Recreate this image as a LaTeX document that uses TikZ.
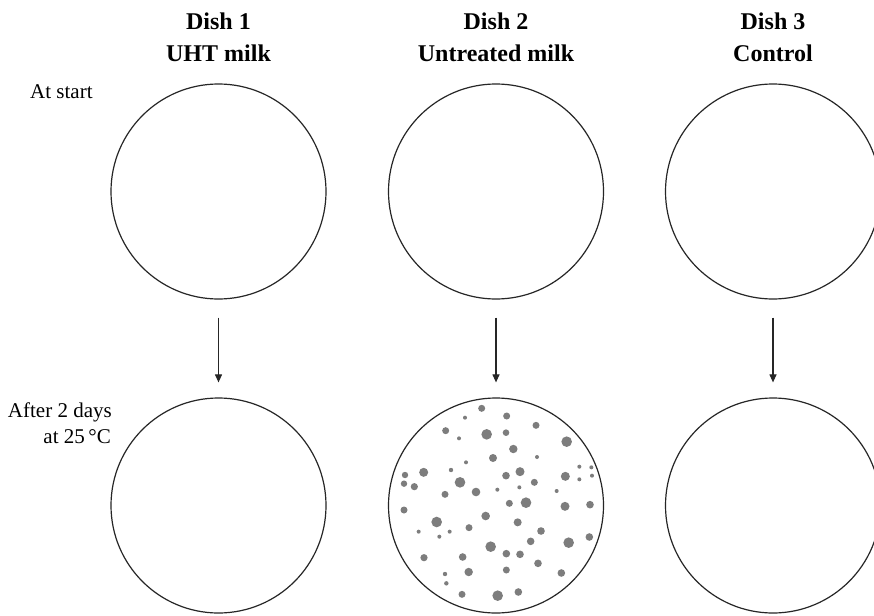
\documentclass[tikz,border=0pt]{standalone}
\usepackage{fontspec}
\setmainfont{Liberation Serif}
\usetikzlibrary{arrows.meta}
\definecolor{dotgray}{RGB}{125,125,125}
\begin{document}
\begin{tikzpicture}[x=1pt,y=-1pt,
  dish/.style={circle,draw=black!85,line width=1.2pt,minimum size=215pt,inner sep=0pt},
  title/.style={font=\fontsize{24}{28}\selectfont\bfseries,anchor=base,inner sep=0pt},
  side/.style={font=\fontsize{21}{26}\selectfont,inner sep=0pt},
  arr/.style={line width=1.1pt,draw=black!85,-{Triangle[length=8pt,width=7pt]}}]
\useasboundingbox (0,0) rectangle (874,615);
\fill[white] (0,0) rectangle (874,615);
% titles
\node[title] (h1a) at (218.5,30) {Dish 1};
\node[title] (h1b) at (218.5,62) {UHT milk};
\node[title] (h2a) at (496,30) {Dish 2};
\node[title] (h2b) at (496,62) {Untreated milk};
\node[title] (h3a) at (773,30) {Dish 3};
\node[title] (h3b) at (773,62) {Control};
% side labels
\node[side,anchor=base west] (start) at (30,99) {At start};
\node[side,anchor=base east] (after1) at (112,417) {After 2 days};
\node[side,anchor=base east] (after2) at (111,443) {at 25\,°C};
% dishes
\node[dish] (t1) at (218.5,191.5) {};
\node[dish] (t2) at (496,191.5) {};
\node[dish] (t3) at (773,191.5) {};
\node[dish] (b1) at (218.5,505.5) {};
\node[dish] (b2) at (496,505.5) {};
\node[dish] (b3) at (773,505.5) {};
% arrows
\foreach \i in {1,2,3}{
  \draw[arr] ([yshift=-18pt]t\i.south) -- ([yshift=15pt]b\i.north);
}
% colonies in dish 2
\foreach \a/\b/\r in {
 305/55/3.5, 255/83/2, 380/78/3.5, 468/106/3.5, 197/122/3.5, 320/133/5.3,
 378/128/3.3, 237/145/2, 560/155/5.3, 400/177/4.2, 339/204/4, 471/201/2,
 258/217/2, 598/230/2, 634/232/2, 213/240/2.2, 131/247/4.5, 420/245/4.5,
 378/257/3.8, 556/259/4.5, 75/255/3.2, 72/281/3.2, 103/290/3.6, 240/277/5.3,
 463/277/3.5, 598/268/2, 636/257/2, 418/292/2, 352/299/2, 288/306/4.3,
 195/313/3.5, 530/303/2, 438/338/5.3, 388/340/3.5, 555/349/4.5, 630/344/3.8,
 72/360/3.5, 317/378/4.3, 170/396/5.3, 413/397/4, 116/425/2, 209/425/2,
 178/440/2, 267/413/3.5, 483/423/3.8, 628/441/3.8, 566/458/5.3, 452/454/3.8,
 332/470/5.3, 379/491/3.8, 420/493/3.8, 132/503/3.6, 248/501/3.8, 474/520/3.8,
 266/546/4.2, 379/540/3.5, 195/552/2.2, 544/549/3.8, 199/580/2.2, 246/613/3.5,
 353/617/5.3, 415/606/3.8}{
  \fill[dotgray] ({380+\a/3},{390+\b/3}) circle (\r);
}
\end{tikzpicture}
\end{document}
